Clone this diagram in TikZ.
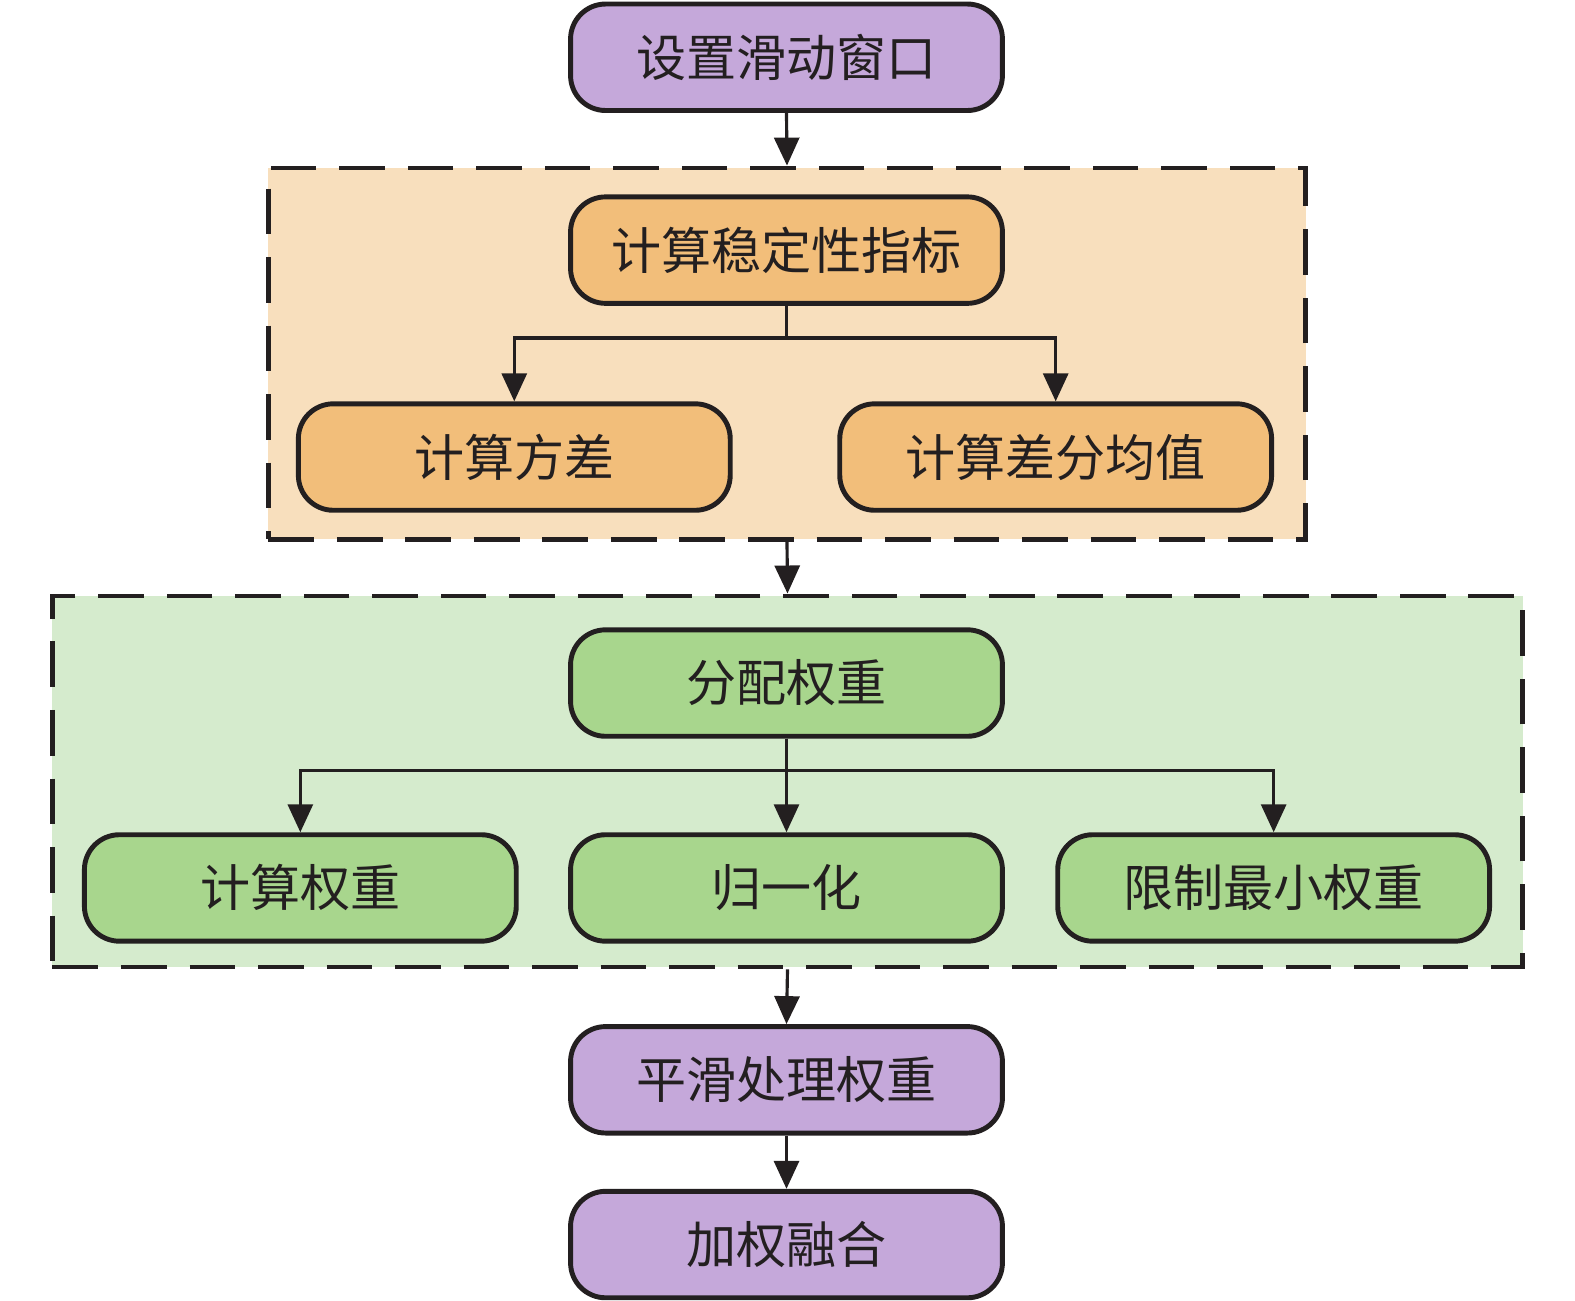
\documentclass[tikz,border=0pt]{standalone}
\usepackage{fontspec}
\setmainfont{Noto Sans CJK SC}
\usetikzlibrary{arrows.meta}
\definecolor{lineC}{HTML}{231F20}
\definecolor{purpleC}{HTML}{C5A8DA}
\definecolor{orangeC}{HTML}{F2BE7A}
\definecolor{orangeBg}{HTML}{F8DFBD}
\definecolor{greenC}{HTML}{A8D68D}
\definecolor{greenBg}{HTML}{D5EBCD}
\newcommand*{\boxW}{8.64cm}
\newcommand*{\boxH}{2.13cm}
\newcommand*{\midX}{783}

\begin{document}
\begin{tikzpicture}[x=0.02009cm,y=-0.02009cm,
	stepbox/.style={draw=lineC,line width=2.8pt,rounded corners=0.7cm,
		minimum width=\boxW,minimum height=\boxH,inner sep=0pt,
		font=\fontsize{28.5}{32}\selectfont,text=lineC},
	groupbox/.style={draw=lineC,line width=2.6pt,dash pattern=on 26pt off 13pt,
		inner sep=0pt},
	arr/.style={draw=lineC,line width=1.8pt,-{Triangle[length=0.56cm,width=0.5cm]}}]
	\useasboundingbox (0,0) rectangle (1568,1295);

	% dashed groups
	\node[groupbox,fill=orangeBg,minimum width=20.75cm,minimum height=7.43cm] (stab) at (783.5,352) {};
	\node[groupbox,fill=greenBg,minimum width=29.41cm,minimum height=7.43cm] (wgt) at (784,778) {};

	% steps
	\node[stepbox,fill=purpleC] (win) at (\midX,57) {设置滑动窗口};
	\node[stepbox,fill=orangeC] (ind) at (\midX,249) {计算稳定性指标};
	\node[stepbox,fill=orangeC] (var) at (512,455) {计算方差};
	\node[stepbox,fill=orangeC] (diff) at (1051,455) {计算差分均值};
	\node[stepbox,fill=greenC] (alloc) at (\midX,680) {分配权重};
	\node[stepbox,fill=greenC] (cw) at (299,884) {计算权重};
	\node[stepbox,fill=greenC] (norm) at (\midX,884) {归一化};
	\node[stepbox,fill=greenC] (minw) at (1268,884) {限制最小权重};
	\node[stepbox,fill=purpleC] (smooth) at (\midX,1075) {平滑处理权重};
	\node[stepbox,fill=purpleC] (fuse) at (\midX,1239) {加权融合};

	% connectors
	\draw[arr] (win.south) -- (stab.north);
	\draw[arr] (ind.south) -- ++(0,32) -| (var.north);
	\draw[arr] (ind.south) -- ++(0,32) -| (diff.north);
	\draw[arr] (stab.south) -- (wgt.north);
	\draw[arr] (alloc.south) -- ++(0,32) -| (cw.north);
	\draw[arr] (alloc.south) -- (norm.north);
	\draw[arr] (alloc.south) -- ++(0,32) -| (minw.north);
	\draw[arr] (wgt.south) -- (smooth.north);
	\draw[arr] (smooth.south) -- (fuse.north);
\end{tikzpicture}
\end{document}
